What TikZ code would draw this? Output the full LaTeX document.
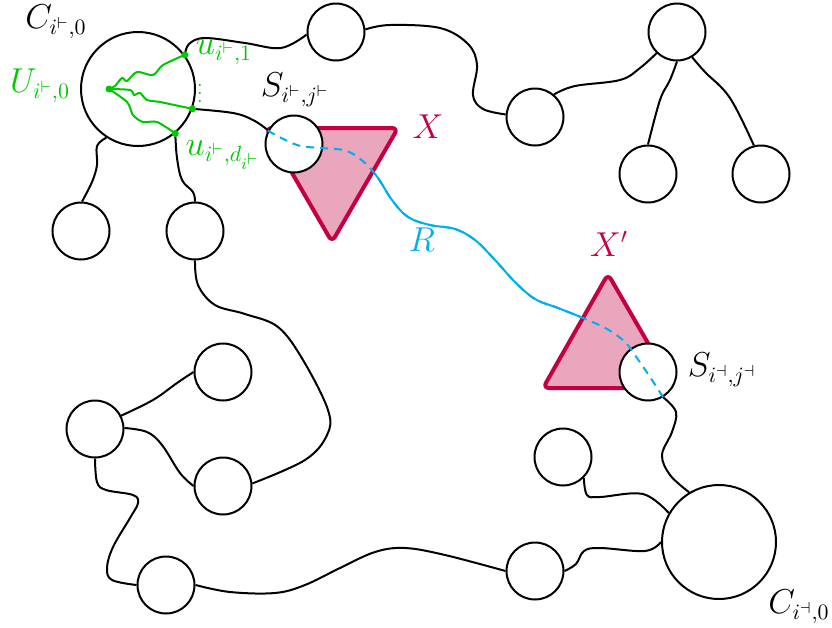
\documentclass[tikz,border=0pt]{standalone}
\usetikzlibrary{backgrounds}
\definecolor{crim}{RGB}{196,0,67}
\definecolor{rcyan}{RGB}{0,174,239}
\definecolor{ggreen}{RGB}{0,200,0}
\begin{document}
\begin{tikzpicture}[x=0.5pt,y=-0.5pt,
  vtx/.style={circle,draw,line width=1pt,fill=white,minimum size=28.5pt,inner sep=0pt},
  bigvtx/.style={vtx,minimum size=57pt},
  edge/.style={line width=1pt,line join=round},
  tri/.style={draw=crim,fill=crim!35,line width=2pt,rounded corners=3pt,line join=round},
  rline/.style={rcyan,line width=1pt},
  gp/.style={ggreen,line width=1pt,line join=round},
  gdot/.style={circle,fill=ggreen,inner sep=0pt,minimum size=3.5pt},
  lbl/.style={font=\fontsize{16}{19}\selectfont,inner sep=1pt}]
\useasboundingbox (0,0) rectangle (832,628);

% vertices
\node[bigvtx] (C1) at (138,89) {};
\node[bigvtx] (C2) at (719,542) {};
\node[vtx] (a1) at (336,32) {};
\node[vtx] (a2) at (535,117) {};
\node[vtx] (t0) at (677,32) {};
\node[vtx] (t1) at (648,174) {};
\node[vtx] (t2) at (761,174) {};
\node[vtx] (b1) at (81,231) {};
\node[vtx] (b2) at (195,231) {};
\node[vtx] (b3) at (223,372) {};
\node[vtx] (b4) at (95,429) {};
\node[vtx] (b5) at (223,486) {};
\node[vtx] (b6) at (166,585) {};
\node[vtx] (b7) at (535,571) {};
\node[vtx] (b8) at (563,457) {};
\node[vtx] (S1) at (294,144) {};
\node[vtx] (S2) at (648,372) {};

% path R (solid part) and triangles, behind the vertices
\begin{scope}[on background layer]
\draw[rline] plot[smooth,tension=0.6] coordinates {(S1.153) (297,145) (322,148) (347,151) (365,163) (378,178) (392,200) (408,217) (430,225) (455,229) (475,240) (495,260) (515,282) (535,299) (558,308) (583,318) (607,329) (625,342) (637,358) (650,377) (S2.301)};
\draw[tri] (332,128) -- (398,128) -- (332,242) -- (266,128) -- cycle;
\draw[tri] (608,388) -- (674,388) -- (608,274) -- (543,388) -- cycle;
\end{scope}

% connectors
\draw[edge] plot[smooth,tension=0.6] coordinates {(C1.36) (189,44) (205,38) (245,43) (281,48) (a1.185)};
\draw[edge] plot[smooth,tension=0.6] coordinates {(a1.5) (390,25) (440,28) (468,44) (477,65) (473,95) (483,109) (a2.175)};
\draw[edge] plot[smooth,tension=0.6] coordinates {(a2.50) (575,86) (620,80) (640,68) (t0.226)};
\draw[edge] plot[smooth,tension=0.6] coordinates {(t0.270) (670,80) (660,100) (t1.90)};
\draw[edge] plot[smooth,tension=0.6] coordinates {(t0.301) (705,72) (730,98) (t2.104)};
\draw[edge] plot[smooth,tension=0.6] coordinates {(C1.237) (97,146) (97,165) (92,182) (b1.88)};
\draw[edge] plot[smooth,tension=0.6] coordinates {(C1.310) (177,158) (182,180) (193,192) (b2.90)};
\draw[edge] plot[smooth,tension=0.6] coordinates {(b2.270) (198,285) (215,305) (245,314) (278,327) (303,360) (328,410) (327,435) (305,460) (b5.5)};
\draw[edge] plot[smooth,tension=0.6] coordinates {(b4.27) (153,400) (177,383) (b3.180)};
\draw[edge] plot[smooth,tension=0.6] coordinates {(b4.2) (147,432) (162,445) (180,473) (b5.180)};
\draw[edge] plot[smooth,tension=0.6] coordinates {(b4.270) (97,482) (106,490) (133,495) (138,503) (130,518) (113,547) (107,568) (112,580) (b6.180)};
\draw[edge] plot[smooth,tension=0.6] coordinates {(b6.0) (230,592) (275,593) (305,585) (340,568) (375,552) (405,548) (445,555) (b7.180)};
\draw[edge] plot[smooth,tension=0.6] coordinates {(b7.0) (576,564) (584,551) (600,548) (645,551) (C2.180)};
\draw[edge] plot[smooth,tension=0.6] coordinates {(b8.315) (587,495) (600,497) (643,494) (C2.150)};
\draw[edge] plot[smooth,tension=0.6] coordinates {(S2.301) (676,412) (672,432) (662,455) (670,475) (C2.121)};
\draw[edge] plot[smooth,tension=0.6] coordinates {(C1.340) (233,113) (253,120) (S1.152)};

% green walks inside C_{i,0}
\node[gdot] (U) at (109,89) {};
\node[gdot] (u1) at (C1.36) {};
\node[gdot] (u2) at (C1.340) {};
\node[gdot] (ud) at (C1.310) {};
\draw[gp] plot[smooth,tension=0.5] coordinates {(U) (115,86) (122,78) (127,81) (137,72) (153,75) (163,65) (u1)};
\draw[gp] plot[smooth,tension=0.5] coordinates {(U) (130,90) (134,95) (140,93) (147,100) (160,102) (u2)};
\draw[gp] plot[smooth,tension=0.5] coordinates {(U) (127,102) (133,115) (143,122) (157,122) (ud)};

% path R (dashed overlay)
\draw[rline,dash pattern=on 4pt off 3pt] plot[smooth,tension=0.6] coordinates {(S1.153) (297,145) (322,148) (347,151) (365,163) (378,178) (392,200) (408,217) (430,225) (455,229) (475,240) (495,260) (515,282) (535,299) (558,308) (583,318) (607,329) (625,342) (637,358) (650,377) (S2.301)};

% labels
\node[lbl] (lC1) at (56,22) {$C_{i^{\vdash},0}$};
\node[lbl,ggreen] (lU) at (40,86) {$U_{i^{\vdash},0}$};
\node[lbl,ggreen] (lu1) at (224,52) {$u_{i^{\vdash},1}$};
\node[lbl,ggreen] (lud) at (223,155) {$u_{i^{\vdash},d_{i^{\vdash}}}$};
\node[ggreen,inner sep=0pt] (ldots) at (200,87) {$\vdots$};
\node[lbl] (lS1) at (295,90) {$S_{i^{\vdash},j^{\vdash}}$};
\node[lbl,crim] (lX) at (428,127) {$X$};
\node[lbl,rcyan] (lR) at (422,240) {$R$};
\node[lbl,crim] (lX2) at (609,244) {$X'$};
\node[lbl] (lS2) at (722,370) {$S_{i^{\dashv},j^{\dashv}}$};
\node[lbl] (lC2) at (799,607) {$C_{i^{\dashv},0}$};
\end{tikzpicture}
\end{document}
